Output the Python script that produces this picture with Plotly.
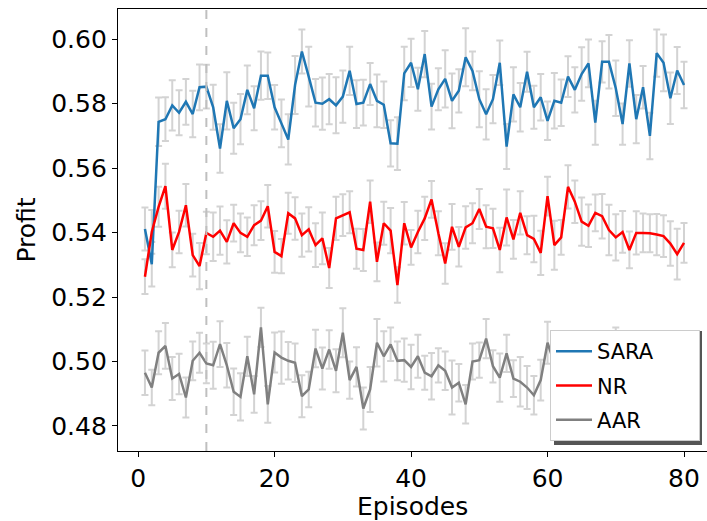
import plotly.graph_objects as go

episodes = list(range(1, 81))

sara = [0.5411, 0.5302, 0.5744, 0.5752, 0.5795, 0.5772, 0.5806, 0.5768, 0.5851, 0.5853,
        0.5789, 0.5661, 0.5809, 0.5724, 0.5752, 0.5843, 0.5786, 0.5887, 0.5887, 0.5789,
        0.5739, 0.5689, 0.5858, 0.5962, 0.5884, 0.5803, 0.5800, 0.5814, 0.5795, 0.5822,
        0.5902, 0.5799, 0.5803, 0.5861, 0.5809, 0.5797, 0.5677, 0.5676, 0.5894, 0.5927,
        0.5845, 0.5954, 0.5791, 0.5845, 0.5877, 0.5809, 0.5840, 0.5944, 0.5902, 0.5814,
        0.5767, 0.5814, 0.5927, 0.5667, 0.5829, 0.5789, 0.5899, 0.5789, 0.5820, 0.5747,
        0.5809, 0.5803, 0.5884, 0.5843, 0.5892, 0.5925, 0.5741, 0.5930, 0.5930, 0.5848,
        0.5737, 0.5925, 0.5752, 0.5851, 0.5700, 0.5957, 0.5927, 0.5817, 0.5903, 0.5858]
sara_err = [0.0067, 0.0069, 0.0075, 0.0068, 0.0078, 0.0070, 0.0071, 0.0072, 0.0071, 0.0068,
            0.0070, 0.0075, 0.0089, 0.0079, 0.0078, 0.0076, 0.0068, 0.0075, 0.0072, 0.0069,
            0.0074, 0.0078, 0.0090, 0.0068, 0.0093, 0.0074, 0.0081, 0.0078, 0.0087, 0.0081,
            0.0075, 0.0074, 0.0071, 0.0065, 0.0082, 0.0072, 0.0072, 0.0082, 0.0083, 0.0075,
            0.0067, 0.0072, 0.0071, 0.0065, 0.0089, 0.0085, 0.0067, 0.0090, 0.0060, 0.0087,
            0.0078, 0.0075, 0.0069, 0.0070, 0.0084, 0.0075, 0.0062, 0.0067, 0.0072, 0.0060,
            0.0086, 0.0072, 0.0063, 0.0070, 0.0083, 0.0074, 0.0068, 0.0064, 0.0083, 0.0086,
            0.0064, 0.0072, 0.0075, 0.0066, 0.0072, 0.0073, 0.0088, 0.0080, 0.0073, 0.0072]

nr = [0.5263, 0.5402, 0.5480, 0.5544, 0.5346, 0.5402, 0.5485, 0.5330, 0.5296, 0.5399,
      0.5387, 0.5406, 0.5371, 0.5429, 0.5399, 0.5387, 0.5423, 0.5437, 0.5482, 0.5340,
      0.5327, 0.5460, 0.5444, 0.5392, 0.5410, 0.5361, 0.5382, 0.5290, 0.5444, 0.5454,
      0.5463, 0.5350, 0.5346, 0.5496, 0.5309, 0.5429, 0.5406, 0.5237, 0.5429, 0.5354,
      0.5402, 0.5444, 0.5503, 0.5398, 0.5304, 0.5418, 0.5356, 0.5416, 0.5429, 0.5473,
      0.5418, 0.5413, 0.5346, 0.5447, 0.5379, 0.5461, 0.5392, 0.5380, 0.5337, 0.5513,
      0.5361, 0.5385, 0.5542, 0.5496, 0.5434, 0.5421, 0.5461, 0.5451, 0.5408, 0.5385,
      0.5402, 0.5346, 0.5399, 0.5399, 0.5398, 0.5394, 0.5389, 0.5366, 0.5333, 0.5368]
nr_err = [0.0054, 0.0068, 0.0062, 0.0070, 0.0054, 0.0066, 0.0066, 0.0066, 0.0072, 0.0066,
          0.0075, 0.0075, 0.0067, 0.0057, 0.0060, 0.0060, 0.0062, 0.0060, 0.0066, 0.0065,
          0.0053, 0.0064, 0.0066, 0.0067, 0.0069, 0.0068, 0.0080, 0.0062, 0.0067, 0.0065,
          0.0065, 0.0062, 0.0065, 0.0066, 0.0060, 0.0067, 0.0070, 0.0055, 0.0066, 0.0054,
          0.0066, 0.0067, 0.0057, 0.0068, 0.0063, 0.0071, 0.0061, 0.0066, 0.0062, 0.0062,
          0.0067, 0.0061, 0.0069, 0.0087, 0.0060, 0.0067, 0.0059, 0.0072, 0.0069, 0.0060,
          0.0076, 0.0054, 0.0067, 0.0066, 0.0075, 0.0066, 0.0057, 0.0069, 0.0078, 0.0072,
          0.0065, 0.0057, 0.0067, 0.0060, 0.0059, 0.0064, 0.0065, 0.0069, 0.0079, 0.0062]

aar = [0.4965, 0.4919, 0.5027, 0.5048, 0.4947, 0.4961, 0.4888, 0.5002, 0.5027, 0.4994,
       0.4988, 0.5054, 0.4988, 0.4906, 0.4890, 0.5016, 0.4898, 0.5106, 0.4867, 0.5028,
       0.5012, 0.5002, 0.4996, 0.4892, 0.4913, 0.5040, 0.4978, 0.5037, 0.4971, 0.5089,
       0.4942, 0.4983, 0.4854, 0.4913, 0.5058, 0.5016, 0.5053, 0.5002, 0.5004, 0.4983,
       0.5016, 0.4965, 0.4954, 0.4988, 0.4971, 0.4919, 0.4934, 0.4867, 0.5000, 0.5004,
       0.5071, 0.4985, 0.4950, 0.5025, 0.4947, 0.4937, 0.4919, 0.4895, 0.4942, 0.5058,
       0.4994, 0.4975, 0.5030, 0.4990, 0.4960, 0.5020, 0.4985, 0.5000, 0.4970, 0.5045,
       0.4995, 0.4980, 0.5015, 0.4965, 0.5005, 0.4990, 0.4975, 0.5020, 0.4985, 0.5000]
aar_err = [0.0069, 0.0055, 0.0067, 0.0071, 0.0067, 0.0063, 0.0062, 0.0060, 0.0062, 0.0062,
           0.0073, 0.0071, 0.0069, 0.0072, 0.0073, 0.0061, 0.0057, 0.0061, 0.0057, 0.0062,
           0.0081, 0.0058, 0.0060, 0.0065, 0.0055, 0.0058, 0.0065, 0.0060, 0.0067, 0.0076,
           0.0058, 0.0061, 0.0065, 0.0070, 0.0074, 0.0078, 0.0052, 0.0060, 0.0067, 0.0069,
           0.0067, 0.0053, 0.0072, 0.0053, 0.0060, 0.0084, 0.0058, 0.0060, 0.0056, 0.0055,
           0.0061, 0.0050, 0.0075, 0.0058, 0.0057, 0.0077, 0.0067, 0.0060, 0.0063, 0.0065,
           0.0062, 0.0064, 0.0060, 0.0066, 0.0063, 0.0061, 0.0065, 0.0062, 0.0064, 0.0060,
           0.0063, 0.0062, 0.0061, 0.0065, 0.0063, 0.0062, 0.0064, 0.0061, 0.0063, 0.0062]

series_names = ["SARA", "NR", "AAR"]
series_values = [sara, nr, aar]
series_errors = [sara_err, nr_err, aar_err]
series_colors = ["#1f77b4", "#ff0000", "#808080"]
split_episode = 10

x_ticks = [0, 20, 40, 60, 80]
y_ticks = [0.48, 0.50, 0.52, 0.54, 0.56, 0.58, 0.60]

FONT = "DejaVu Sans"
fig = go.Figure()

# error bars first (behind all lines)
for vals, errs in zip(series_values, series_errors):
    fig.add_trace(go.Scatter(
        x=episodes, y=vals, mode="markers", marker=dict(size=0.1, opacity=0),
        error_y=dict(type="data", array=errs, visible=True, color="#d3d3d3",
                     thickness=2, width=3.5),
        showlegend=False, hoverinfo="skip"))

PAD = "\u00a0" * 6  # right padding inside the legend box
for i, (name, vals, col) in enumerate(zip(series_names, series_values, series_colors)):
    fig.add_trace(go.Scatter(
        x=episodes, y=vals, mode="lines", name=name + PAD,
        line=dict(color=col, width=2.5), legendgroup=name))

fig.add_vline(x=split_episode, line=dict(color="#bfbfbf", width=2, dash="dash"))

W, H = 707, 521
L, R, T, B = 118, 0, 9, 70
pw, ph = W - L - R, H - T - B

def px2paper(x, y):
    return (x - L) / pw, (H - B - y) / ph

sx0, sy0 = px2paper(554, 445)
sx1, sy1 = px2paper(702, 331)
fig.add_shape(type="rect", xref="paper", yref="paper", x0=sx0, y0=sy0, x1=sx1, y1=sy1,
              fillcolor="#555555", line=dict(width=0), layer="above")

lx, ly = px2paper(700, 441)
ex, ey = px2paper((L + W) / 2, 506)
fig.add_annotation(text="Episodes", xref="paper", yref="paper", x=0.5, y=ey,
                   xanchor="center", yanchor="middle", showarrow=False, borderpad=0,
                   font=dict(size=25, family=FONT, color="black"))

fig.update_layout(
    width=W, height=H,
    margin=dict(l=L, r=R, t=T, b=B),
    paper_bgcolor="white", plot_bgcolor="white",
    font=dict(family=FONT, size=25, color="black"),
    showlegend=True,
    legend=dict(x=lx, y=ly, xanchor="right", yanchor="bottom",
                bgcolor="white", bordercolor="#cccccc", borderwidth=1,
                font=dict(size=21), tracegroupgap=4, itemwidth=36),
    xaxis=dict(range=[-2.95, 83.37], tickvals=x_ticks, showgrid=False, zeroline=False,
               showline=True, linecolor="black", linewidth=1.3, mirror=True,
               ticks="outside", ticklen=5, tickcolor="black", tickfont=dict(size=25)),
    yaxis=dict(range=[0.4722, 0.6094], tickvals=y_ticks, tickformat=".2f", showgrid=False,
               zeroline=False, showline=True, linecolor="black", linewidth=1.3, mirror=True,
               ticks="outside", ticklen=5, tickcolor="black", tickfont=dict(size=25),
               title=dict(text="Profit", font=dict(size=25), standoff=8)),
)

fig.write_html("out.html")
